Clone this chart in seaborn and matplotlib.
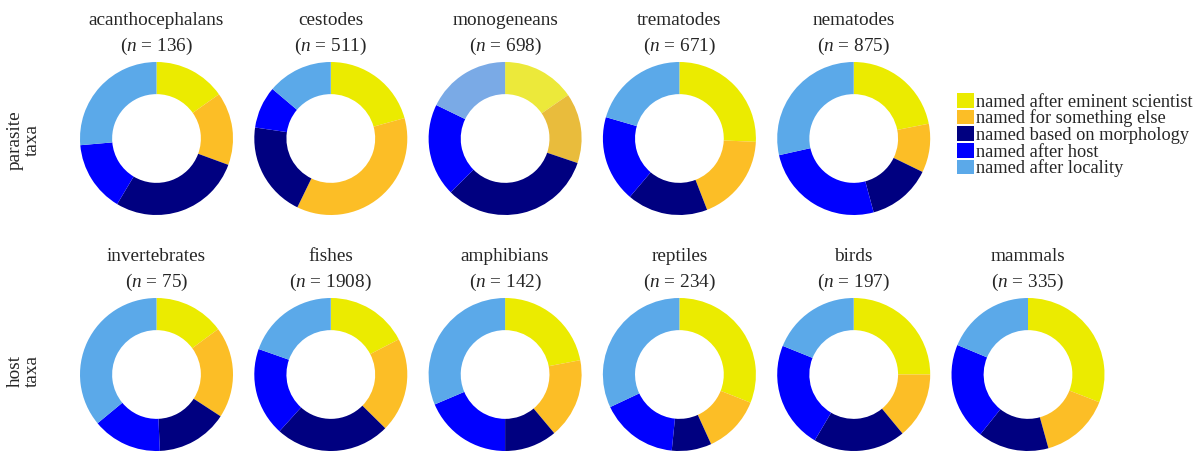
"""Donut charts of how parasite species were named, by parasite and host taxon"""
import matplotlib
matplotlib.use("Agg")
import matplotlib.pyplot as plt
from matplotlib.patches import Patch
import seaborn as sns

categories = [
    "named after eminent scientist",
    "named for something else",
    "named based on morphology",
    "named after host",
    "named after locality",
]

parasite_taxa = ["acanthocephalans", "cestodes", "monogeneans", "trematodes", "nematodes"]
parasite_n = [136, 511, 698, 671, 875]
# shares (%) in category order, read clockwise from 12 o'clock
acanthocephalans = [15.2, 15.4, 28.0, 15.0, 26.4]
cestodes = [20.7, 36.5, 20.1, 8.9, 13.8]
monogeneans = [15.4, 14.8, 32.4, 19.6, 17.8]
trematodes = [25.7, 18.4, 17.1, 18.3, 20.5]
nematodes = [21.9, 10.3, 13.6, 25.7, 28.5]

host_taxa = ["invertebrates", "fishes", "amphibians", "reptiles", "birds", "mammals"]
host_n = [75, 1908, 142, 234, 197, 335]
invertebrates = [14.9, 19.3, 15.1, 14.7, 36.0]
fishes = [17.4, 20.0, 24.3, 18.7, 19.6]
amphibians = [22.0, 16.9, 11.1, 18.6, 31.4]
reptiles = [31.0, 12.2, 8.4, 16.4, 32.0]
birds = [25.0, 14.0, 19.5, 22.6, 18.9]
mammals = [30.9, 14.8, 15.0, 20.6, 18.7]

parasite_vals = [acanthocephalans, cestodes, monogeneans, trematodes, nematodes]
host_vals = [invertebrates, fishes, amphibians, reptiles, birds, mammals]

colors = sns.color_palette(["#ebeb00", "#fcbe26", "#000080", "#0000ff", "#5ba9e9"])
# the monogeneans panel is drawn in slightly washed-out tones in the original
colors_mono = sns.color_palette(["#ece93a", "#e9bc3c", "#000080", "#0000ff", "#7aaae6"])

sns.set_style("white")
plt.rcParams["font.family"] = ["Liberation Serif", "DejaVu Serif"]
plt.rcParams["mathtext.fontset"] = "custom"
plt.rcParams["mathtext.it"] = "Liberation Serif:italic"
plt.rcParams["mathtext.rm"] = "Liberation Serif"

W, H = 1201, 457
fig = plt.figure(figsize=(W / 100, H / 100), dpi=100)

R = 76.5
x0, dx = 156.5, 174.3
rows = [(138.5, parasite_taxa, parasite_n, parasite_vals),
        (374.5, host_taxa, host_n, host_vals)]

for cy, names, ns, vals in rows:
    for i, (name, n, v) in enumerate(zip(names, ns, vals)):
        cx = x0 + dx * i
        ax = fig.add_axes([(cx - R) / W, (H - cy - R) / H, 2 * R / W, 2 * R / H])
        cols = colors_mono if name == "monogeneans" else colors
        ax.pie(v, colors=cols, startangle=90, counterclock=False,
               wedgeprops=dict(width=0.42, linewidth=0))
        ax.set_xlim(-1, 1)
        ax.set_ylim(-1, 1)
        ax.set_aspect("equal")
        ax.axis("off")
        fig.text(cx / W, 1 - (cy - 118) / H, name, ha="center", va="center",
                 fontsize=13.9)
        fig.text(cx / W, 1 - (cy - 92) / H, "($\\mathit{n}$ = %d)" % n,
                 ha="center", va="center", fontsize=13.9)

fig.text(24 / W, 1 - 140 / H, "parasite\ntaxa", rotation=90, ha="center",
         va="center", fontsize=13.9, linespacing=1.0)
fig.text(24 / W, 1 - 371 / H, "host\ntaxa", rotation=90, ha="center",
         va="center", fontsize=13.9, linespacing=1.0)

handles = [Patch(facecolor=c, edgecolor="none") for c in colors]
fig.legend(handles, categories, loc="upper left",
           bbox_to_anchor=(957 / W, 1 - 93 / H), frameon=False,
           fontsize=13.2, handlelength=0.95, handleheight=0.85,
           handletextpad=0.1, labelspacing=-0.06, borderpad=0,
           borderaxespad=0)

fig.savefig("out.png", dpi=100)
